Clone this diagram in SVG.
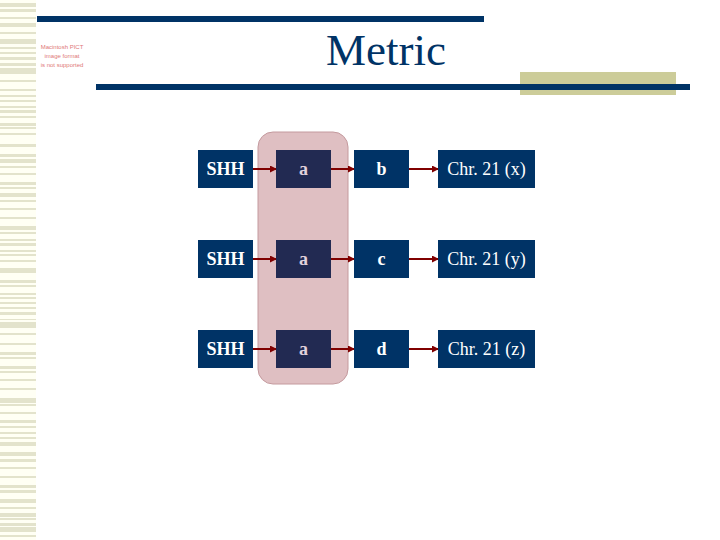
<svg xmlns="http://www.w3.org/2000/svg" width="720" height="540" viewBox="0 0 720 540">
<style>
.strip{fill:#e3e3cc}
.box{fill:#003366}
.boxa{fill:#222a52}
.lbl{font-family:"Liberation Serif","Times New Roman",serif;font-size:18px;fill:#ffffff;text-anchor:middle}
.b{font-weight:bold}
.la{fill:#e2d2dc;font-weight:bold}
.conn{stroke:#800000;stroke-width:2;fill:none;marker-end:url(#ah)}
.pict{font-family:"Liberation Sans",Arial,sans-serif;font-size:6px;fill:#e07878;text-anchor:middle}
</style>
<defs>
<marker id="ah" markerWidth="8" markerHeight="8" refX="6" refY="3.5" orient="auto" markerUnits="userSpaceOnUse">
<path d="M0,0 L7,3.5 L0,7 Z" fill="#800000"/>
</marker>
</defs>
<rect width="720" height="540" fill="#ffffff"/>
<g id="left-strip">
<rect x="0" y="0" width="36" height="540" fill="#fffff4"/>
<g class="strip">
<rect x="0" y="3" width="36" height="4"/><rect x="0" y="9" width="36" height="3"/><rect x="0" y="17" width="36" height="2"/><rect x="0" y="23" width="36" height="4"/><rect x="0" y="32" width="36" height="2"/><rect x="0" y="39" width="36" height="5"/><rect x="0" y="47" width="36" height="2"/><rect x="0" y="52" width="36" height="2"/><rect x="0" y="57" width="36" height="3"/><rect x="0" y="63" width="36" height="3"/><rect x="0" y="68" width="36" height="6"/><rect x="0" y="80" width="36" height="2"/><rect x="0" y="89" width="36" height="2"/><rect x="0" y="95" width="36" height="2"/><rect x="0" y="100" width="36" height="2"/><rect x="0" y="106" width="36" height="2"/><rect x="0" y="110" width="36" height="3"/><rect x="0" y="116" width="36" height="2"/><rect x="0" y="123" width="36" height="3"/><rect x="0" y="127" width="36" height="2"/><rect x="0" y="133" width="36" height="2"/>
<rect x="0" y="144" width="36" height="3"/><rect x="0" y="154" width="36" height="3"/><rect x="0" y="159" width="36" height="4"/><rect x="0" y="166" width="36" height="2"/><rect x="0" y="173" width="36" height="2"/><rect x="0" y="182" width="36" height="3"/><rect x="0" y="187" width="36" height="2"/><rect x="0" y="193" width="36" height="4"/><rect x="0" y="200" width="36" height="2"/><rect x="0" y="208" width="36" height="2"/><rect x="0" y="217" width="36" height="2"/><rect x="0" y="226" width="36" height="4"/><rect x="0" y="232" width="36" height="2"/><rect x="0" y="239" width="36" height="2"/><rect x="0" y="243" width="36" height="3"/><rect x="0" y="250" width="36" height="2"/><rect x="0" y="254" width="36" height="2"/><rect x="0" y="260" width="36" height="2"/><rect x="0" y="268" width="36" height="5"/>
<rect x="0" y="280" width="36" height="3"/><rect x="0" y="285" width="36" height="2"/><rect x="0" y="293" width="36" height="2"/><rect x="0" y="297" width="36" height="2"/><rect x="0" y="302" width="36" height="2"/><rect x="0" y="307" width="36" height="2"/><rect x="0" y="312" width="36" height="3"/><rect x="0" y="319" width="36" height="1"/><rect x="0" y="322" width="36" height="6"/><rect x="0" y="333" width="36" height="2"/><rect x="0" y="343" width="36" height="2"/><rect x="0" y="352" width="36" height="3"/><rect x="0" y="357" width="36" height="2"/><rect x="0" y="366" width="36" height="3"/><rect x="0" y="371" width="36" height="2"/><rect x="0" y="379" width="36" height="2"/><rect x="0" y="388" width="36" height="2"/><rect x="0" y="398" width="36" height="5"/><rect x="0" y="404" width="36" height="2"/><rect x="0" y="412" width="36" height="2"/>
<rect x="0" y="420" width="36" height="3"/><rect x="0" y="426" width="36" height="2"/><rect x="0" y="432" width="36" height="2"/><rect x="0" y="437" width="36" height="2"/><rect x="0" y="442" width="36" height="4"/><rect x="0" y="452" width="36" height="4"/><rect x="0" y="459" width="36" height="3"/><rect x="0" y="467" width="36" height="2"/><rect x="0" y="476" width="36" height="2"/><rect x="0" y="485" width="36" height="3"/><rect x="0" y="490" width="36" height="3"/><rect x="0" y="499" width="36" height="4"/><rect x="0" y="507" width="36" height="2"/><rect x="0" y="513" width="36" height="4"/><rect x="0" y="518" width="36" height="2"/><rect x="0" y="523" width="36" height="3"/><rect x="0" y="527" width="36" height="5"/><rect x="0" y="535" width="36" height="2"/>
</g>
</g>
<g id="header">
<rect x="37" y="16" width="447" height="6" fill="#003366"/>
<rect x="520" y="72" width="156" height="23" fill="#cccc99"/>
<rect x="96" y="84" width="594" height="6" fill="#003366"/>
<text x="386" y="65" font-family="'Liberation Serif','Times New Roman',serif" font-size="45" fill="#003366" text-anchor="middle">Metric</text>
</g>
<g id="pict-placeholder">
<text class="pict" x="62" y="49">Macintosh PICT</text>
<text class="pict" x="62" y="58">image format</text>
<text class="pict" x="62" y="67">is not supported</text>
</g>
<g id="highlight">
<rect x="258" y="132" width="90" height="252" rx="15" ry="15" fill="#dfbfc2" stroke="#c49a9e" stroke-width="1"/>
</g>
<g id="connectors">
<line class="conn" x1="253" y1="169" x2="276" y2="169"/>
<line class="conn" x1="331" y1="169" x2="354" y2="169"/>
<line class="conn" x1="409" y1="169" x2="438" y2="169"/>
<line class="conn" x1="253" y1="259" x2="276" y2="259"/>
<line class="conn" x1="331" y1="259" x2="354" y2="259"/>
<line class="conn" x1="409" y1="259" x2="438" y2="259"/>
<line class="conn" x1="253" y1="349" x2="276" y2="349"/>
<line class="conn" x1="331" y1="349" x2="354" y2="349"/>
<line class="conn" x1="409" y1="349" x2="438" y2="349"/>
</g>
<g id="n-shh1"><rect class="box" x="198" y="150" width="55" height="38"/><text class="lbl b" x="225.5" y="175">SHH</text></g>
<g id="n-a1"><rect class="boxa" x="276" y="150" width="55" height="38"/><text class="lbl la" x="303.5" y="175">a</text></g>
<g id="n-b"><rect class="box" x="354" y="150" width="55" height="38"/><text class="lbl b" x="381.5" y="175">b</text></g>
<g id="n-chrx"><rect class="box" x="438" y="150" width="97" height="38"/><text class="lbl" x="486.5" y="175">Chr. 21 (x)</text></g>
<g id="n-shh2"><rect class="box" x="198" y="240" width="55" height="38"/><text class="lbl b" x="225.5" y="265">SHH</text></g>
<g id="n-a2"><rect class="boxa" x="276" y="240" width="55" height="38"/><text class="lbl la" x="303.5" y="265">a</text></g>
<g id="n-c"><rect class="box" x="354" y="240" width="55" height="38"/><text class="lbl b" x="381.5" y="265">c</text></g>
<g id="n-chry"><rect class="box" x="438" y="240" width="97" height="38"/><text class="lbl" x="486.5" y="265">Chr. 21 (y)</text></g>
<g id="n-shh3"><rect class="box" x="198" y="330" width="55" height="38"/><text class="lbl b" x="225.5" y="355">SHH</text></g>
<g id="n-a3"><rect class="boxa" x="276" y="330" width="55" height="38"/><text class="lbl la" x="303.5" y="355">a</text></g>
<g id="n-d"><rect class="box" x="354" y="330" width="55" height="38"/><text class="lbl b" x="381.5" y="355">d</text></g>
<g id="n-chrz"><rect class="box" x="438" y="330" width="97" height="38"/><text class="lbl" x="486.5" y="355">Chr. 21 (z)</text></g>
</svg>
